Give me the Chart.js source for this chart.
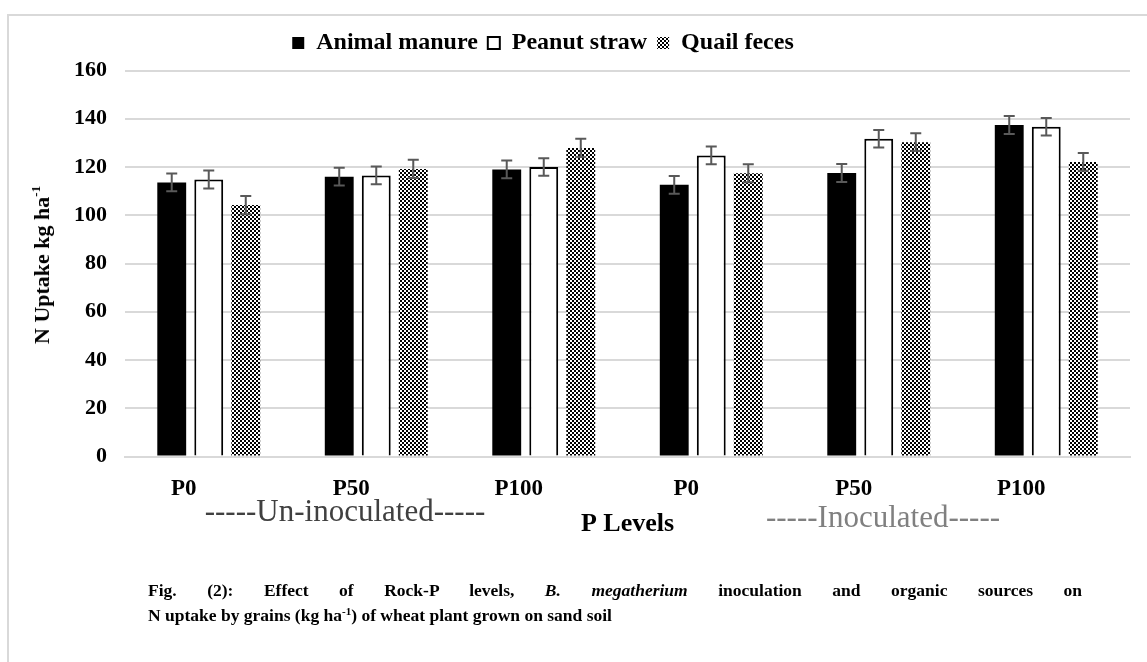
<!DOCTYPE html>
<html>
<head>
<meta charset="utf-8">
<script src="https://cdn.jsdelivr.net/npm/chart.js@4.4.1/dist/chart.umd.min.js"></script>
<style>
  html, body { margin: 0; padding: 0; background: #fff; }
  #wrap { position: relative; width: 1147px; height: 662px; overflow: hidden; font-family: "Liberation Serif", "Times New Roman", serif; }
  #c { position: absolute; left: 0; top: 0; }
  #frame { position: absolute; left: 7px; top: 14px; width: 1140px; height: 648px; border-top: 2px solid #d9d9d9; border-left: 2px solid #d9d9d9; box-sizing: border-box; }
  .txt { position: absolute; white-space: nowrap; }
  #ytitle { left: 42px; top: 265px; transform: translate(-50%, -50%) rotate(-90deg); font-weight: bold; font-size: 22px; color: #000; }
  #ytitle sup { font-size: 13px; vertical-align: 9px; line-height: 0; }
  #uninoc { left: 345px; top: 511px; transform: translate(-50%, -50%); font-size: 31px; color: #404040; }
  #inoc { left: 883px; top: 517px; transform: translate(-50%, -50%); font-size: 31px; color: #808080; }
  #caption { position: absolute; left: 148px; top: 578px; width: 934px; font-weight: bold; font-size: 17.5px; line-height: 25px; color: #000; }
  #caption .l1 { text-align: justify; text-align-last: justify; white-space: nowrap; }
  #caption .l2 { text-align: left; white-space: nowrap; }
  #caption sup { font-size: 11px; vertical-align: 6px; line-height: 0; }
</style>
</head>
<body>
<div id="wrap">
  <div id="frame"></div>
  <canvas id="c" width="1147" height="662"></canvas>
  <div class="txt" id="ytitle">N Uptake kg ha<sup>-1</sup></div>
  <div class="txt" id="uninoc">-----Un-inoculated-----</div>
  <div class="txt" id="inoc">-----Inoculated-----</div>
  <div id="caption">
    <div class="l1">Fig. (2): Effect of Rock-P levels, <i>B. megatherium</i> inoculation and organic sources on</div>
    <div class="l2">N uptake by grains (kg ha<sup>-1</sup>) of wheat plant grown on sand soil</div>
  </div>
</div>
<script>
// ---- data ----
const categories = ['P0', 'P50', 'P100', 'P0', 'P50', 'P100'];
const seriesNames = ['Animal manure', 'Peanut straw', 'Quail feces'];
const animalManure = [113.6, 116.0, 119.0, 112.6, 117.5, 137.4];
const peanutStraw  = [114.8, 116.5, 120.0, 124.8, 131.7, 136.7];
const quailFeces   = [104.2, 119.2, 127.9, 117.4, 130.3, 122.1];
const errAnimalManure = [3.7, 3.7, 3.7, 3.7, 3.7, 3.7];
const errPeanutStraw  = [3.7, 3.7, 3.6, 3.7, 3.6, 3.6];
const errQuailFeces   = [3.8, 3.8, 3.8, 3.7, 3.7, 3.7];
const yTicks = [0, 20, 40, 60, 80, 100, 120, 140, 160];

// ---- zigzag pattern for Quail feces ----
function makeZigzag() {
  const c = document.createElement('canvas');
  c.width = 8; c.height = 8;
  const g = c.getContext('2d');
  g.fillStyle = '#fff'; g.fillRect(0, 0, 8, 8);
  g.fillStyle = '#000';
  const pts = [[0,0],[2,2],[4,4],[6,2],[0,4],[2,6],[4,0],[6,6]];
  pts.forEach(p => g.fillRect(p[0], p[1], 2, 2));
  return g.createPattern(c, 'repeat');
}
const ctx = document.getElementById('c').getContext('2d');
const zig = makeZigzag();

const errorBarPlugin = {
  id: 'errorBars',
  afterDatasetsDraw(chart) {
    const c = chart.ctx, ys = chart.scales.y;
    c.save();
    c.strokeStyle = '#595959';
    c.lineWidth = 2;
    chart.data.datasets.forEach((ds, i) => {
      const meta = chart.getDatasetMeta(i);
      meta.data.forEach((bar, j) => {
        const v = ds.data[j], e = ds.errorBars[j];
        const yt = ys.getPixelForValue(v + e), yb = ys.getPixelForValue(v - e);
        const x = bar.x;
        c.beginPath();
        c.moveTo(x, yt); c.lineTo(x, yb);
        c.moveTo(x - 5.5, yt); c.lineTo(x + 5.5, yt);
        c.moveTo(x - 5.5, yb); c.lineTo(x + 5.5, yb);
        c.stroke();
      });
    });
    c.restore();
  }
};

const legendSpacing = {
  id: 'legendSpacing',
  beforeInit(chart) {
    const origFit = chart.legend.fit;
    chart.legend.fit = function () { origFit.bind(this)(); this.height += 5.5; };
  },
  afterLayout(chart) {
    chart.legend.left -= 22;
    chart.legend.right -= 22;
  }
};

new Chart(ctx, {
  type: 'bar',
  data: {
    labels: categories,
    datasets: [
      { label: seriesNames[0], data: animalManure, errorBars: errAnimalManure, backgroundColor: '#000', borderColor: '#000', borderWidth: 0 },
      { label: seriesNames[1], data: peanutStraw, errorBars: errPeanutStraw, backgroundColor: '#fff', borderColor: '#000', borderWidth: 2 },
      { label: seriesNames[2], data: quailFeces, errorBars: errQuailFeces, backgroundColor: zig, borderColor: '#000', borderWidth: 0 }
    ]
  },
  options: {
    responsive: false,
    animation: false,
    categoryPercentage: 0.663,
    barPercentage: 0.78,
    layout: { padding: { left: 0, right: 17, top: 21, bottom: 122.5 } },
    plugins: {
      legend: {
        position: 'top',
        labels: {
          boxWidth: 12, boxHeight: 12, padding: 10, color: '#000',
          font: { family: 'Liberation Serif', size: 24, weight: 'bold' }
        }
      },
      tooltip: { enabled: false }
    },
    scales: {
      x: {
        afterFit(s) { s.height = 83; },
        grid: { display: false, drawTicks: false },
        border: { display: true, color: '#d9d9d9', width: 2 },
        ticks: { color: '#000', padding: 19, labelOffset: -25, font: { family: 'Liberation Serif', size: 23, weight: 'bold' } },
        title: { display: true, text: 'P Levels', color: '#000', padding: 0, font: { family: 'Liberation Serif', size: 26, weight: 'bold' } }
      },
      y: {
        min: 0, max: 160,
        afterFit(s) { s.width = 125; },
        afterBuildTicks(s) { s.ticks = yTicks.map(v => ({ value: v })); },
        grid: { color: '#d9d9d9', lineWidth: 2, drawTicks: false },
        border: { display: false },
        ticks: { color: '#000', padding: 18, font: { family: 'Liberation Serif', size: 22, weight: 'bold' } }
      }
    }
  },
  plugins: [errorBarPlugin, legendSpacing]
});
</script>
</body>
</html>
